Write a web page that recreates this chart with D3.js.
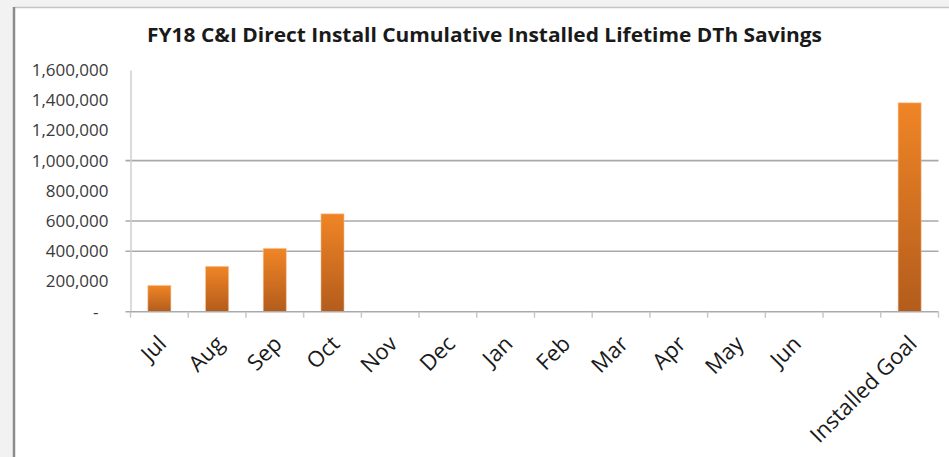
<!DOCTYPE html>
<html>
<head>
<meta charset="utf-8">
<script src="https://cdn.jsdelivr.net/npm/d3@7"></script>
<style>
  html, body { margin: 0; padding: 0; background: #f2f2f2; }
  svg { display: block; }
</style>
</head>
<body>
<svg id="chart" width="949" height="457"></svg>
<script>
// chart data
const categories = ['Jul', 'Aug', 'Sep', 'Oct', 'Nov', 'Dec', 'Jan', 'Feb', 'Mar', 'Apr', 'May', 'Jun', '', 'Installed Goal'];
const savings = [174000, 300000, 419000, 648000, null, null, null, null, null, null, null, null, null, 1383000];
const yTicks = [0, 200000, 400000, 600000, 800000, 1000000, 1200000, 1400000, 1600000];
const gridValues = [400000, 600000, 1000000];
const title = 'FY18 C&I Direct Install Cumulative Installed Lifetime DTh Savings';

const width = 949;
const height = 457;
const plot = { left: 130.5, right: 938.5, top: 70, bottom: 311.7 };

const svg = d3.select('#chart');

// panel + frame
svg.append('rect')
  .attr('x', 14).attr('y', 8)
  .attr('width', width - 14).attr('height', height - 8)
  .attr('fill', '#ffffff');
svg.append('line')
  .attr('x1', 14).attr('x2', width).attr('y1', 7.5).attr('y2', 7.5)
  .attr('stroke', '#c4c4c4').attr('stroke-width', 1.5);
svg.append('line')
  .attr('x1', 14).attr('x2', 14).attr('y1', 7).attr('y2', height)
  .attr('stroke', '#8c8c8c').attr('stroke-width', 2.5);

const defs = svg.append('defs');
const grad = defs.append('linearGradient')
  .attr('id', 'barGrad')
  .attr('x1', 0).attr('x2', 0).attr('y1', 0).attr('y2', 1);
grad.append('stop').attr('offset', '0%').attr('stop-color', '#f08526');
grad.append('stop').attr('offset', '100%').attr('stop-color', '#b35c1c');

const x = d3.scaleBand()
  .domain(categories)
  .range([plot.left, plot.right])
  .paddingInner(0.6)
  .paddingOuter(0.3);

const y = d3.scaleLinear()
  .domain([0, 1600000])
  .range([plot.bottom, plot.top]);

// gridlines
svg.append('g')
  .selectAll('line')
  .data(gridValues)
  .join('line')
  .attr('x1', plot.left - 5).attr('x2', plot.right)
  .attr('y1', (d) => y(d)).attr('y2', (d) => y(d))
  .attr('stroke', '#a9a9a9').attr('stroke-width', 1.6);

// y axis
const yAxis = svg.append('g')
  .attr('transform', `translate(${plot.left},0)`)
  .call(d3.axisLeft(y)
    .tickValues(yTicks)
    .tickSize(0)
    .tickPadding(22)
    .tickFormat((d) => (d === 0 ? '-' : d3.format(',')(d))));
yAxis.select('.domain').attr('stroke', '#cfcfcf').attr('stroke-width', 1.5);
yAxis.selectAll('text')
  .attr('font-family', '"Open Sans", sans-serif')
  .attr('font-size', 17)
  .attr('fill', '#3a3a3a')
  .attr('dx', (d) => (d === 0 ? -10 : 0));

// bars
svg.append('g')
  .selectAll('rect')
  .data(categories.map((c, i) => ({ c, v: savings[i] })).filter((d) => d.v != null))
  .join('rect')
  .attr('x', (d) => x(d.c))
  .attr('width', x.bandwidth())
  .attr('y', (d) => y(d.v))
  .attr('height', (d) => y(0) - y(d.v))
  .attr('fill', 'url(#barGrad)')
  .attr('stroke', 'rgba(250,200,160,0.55)')
  .attr('stroke-width', 1);

// x axis
const step = x.step();
const bounds = d3.range(categories.length + 1).map((i) => plot.left + i * step);
const xAxis = svg.append('g')
  .attr('transform', `translate(0,${plot.bottom})`)
  .call(d3.axisBottom(x).tickSize(0).tickPadding(0));
xAxis.select('.domain').remove();
xAxis.append('line')
  .attr('x1', plot.left - 5).attr('x2', plot.right)
  .attr('stroke', '#a9a9a9').attr('stroke-width', 1.6);
xAxis.selectAll('.boundary')
  .data(bounds)
  .join('line')
  .attr('class', 'boundary')
  .attr('x1', (d) => d).attr('x2', (d) => d)
  .attr('y1', 0).attr('y2', 6)
  .attr('stroke', '#c8c8c8').attr('stroke-width', 1.5);
xAxis.selectAll('.tick text')
  .attr('font-family', '"Open Sans", sans-serif')
  .attr('font-size', 22)
  .attr('fill', '#1a1a1a')
  .attr('text-anchor', 'end')
  .attr('x', 0).attr('y', 0)
  .attr('dy', '0.35em')
  .attr('transform', 'translate(3,28) rotate(-45)');

// title
svg.append('text')
  .attr('x', 484.5)
  .attr('y', 42)
  .attr('text-anchor', 'middle')
  .attr('font-family', '"Open Sans", sans-serif')
  .attr('font-weight', 'bold')
  .attr('font-size', 20)
  .attr('fill', '#1a1a1a')
  .attr('textLength', 675)
  .attr('lengthAdjust', 'spacingAndGlyphs')
  .text(title);
</script>
</body>
</html>
